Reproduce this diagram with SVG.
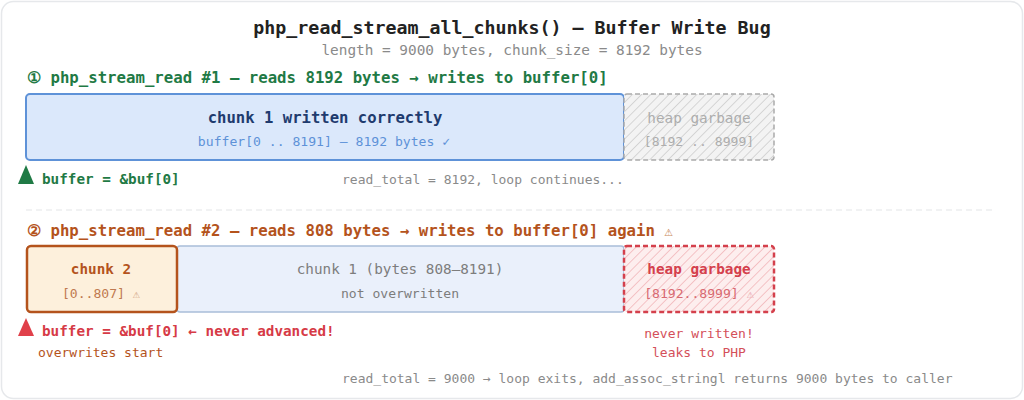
<svg xmlns="http://www.w3.org/2000/svg" width="1024" height="400" viewBox="0 0 1024 400">
<defs>
<pattern id="hatchGray" patternUnits="userSpaceOnUse" width="6.5" height="6.5" patternTransform="rotate(45)">
<rect width="6.5" height="6.5" fill="#f3f3f3"/>
<line x1="0" y1="0" x2="0" y2="6.5" stroke="#c6c6c6" stroke-width="1.3"/>
</pattern>
<pattern id="hatchRed" patternUnits="userSpaceOnUse" width="6.5" height="6.5" patternTransform="rotate(45)">
<rect width="6.5" height="6.5" fill="#fdeeee"/>
<line x1="0" y1="0" x2="0" y2="6.5" stroke="#f0abb0" stroke-width="1.3"/>
</pattern>
</defs>
<style>
text{font-family:"DejaVu Sans Mono","Liberation Mono",monospace;}
.b{font-weight:bold;}
.c{text-anchor:middle;}
.gray{fill:#8a8a8a;font-size:13px;}
</style>
<rect x="1.5" y="1.5" width="1021" height="397" rx="12" fill="#ffffff" stroke="#e6e8eb" stroke-width="1.5"/>
<g id="title">
<text x="512" y="34" class="b c" font-size="18.3" fill="#222222">php_read_stream_all_chunks() — Buffer Write Bug</text>
<text x="512" y="55" class="c" font-size="14.4" fill="#8a8a8a">length = 9000 bytes, chunk_size = 8192 bytes</text>
</g>
<g id="step1">
<text x="27" y="83" class="b" font-size="15.7" fill="#1f7a45">① php_stream_read #1 — reads 8192 bytes → writes to buffer[0]</text>
</g>
<g id="chunk1">
<rect x="26" y="94" width="598" height="66" rx="4" fill="#dbe8fb" stroke="#5e92d8" stroke-width="2"/>
<text x="325" y="123" class="b c" font-size="15.6" fill="#1f3b6e">chunk 1 written correctly</text>
<text x="324" y="146" class="c" font-size="13.1" fill="#5e92d8">buffer[0 .. 8191] — 8192 bytes ✓</text>
</g>
<g id="garbage1">
<rect x="624" y="94" width="150" height="66" rx="3" fill="url(#hatchGray)" stroke="#aaaaaa" stroke-width="1.5" stroke-dasharray="5,3"/>
<text x="699" y="123" class="c" font-size="14.3" fill="#adadad">heap garbage</text>
<text x="699" y="146" class="c" font-size="13.1" fill="#adadad">[8192 .. 8999]</text>
</g>
<g id="pointer1">
<polygon points="26,165 34,184 18,184" fill="#1f7a45"/>
<text x="42" y="184" class="b" font-size="14.3" fill="#1f7a45">buffer = &amp;buf[0]</text>
<text x="342" y="184" class="gray">read_total = 8192, loop continues...</text>
</g>
<line x1="26" y1="210" x2="994" y2="210" stroke="#e3e5e8" stroke-width="1.2" stroke-dasharray="6,4"/>
<g id="step2">
<text x="27" y="236" class="b" font-size="15.7" fill="#b4531c">② php_stream_read #2 — reads 808 bytes → writes to buffer[0] again <tspan font-weight="normal" font-size="14" fill="#c9885a">⚠</tspan></text>
</g>
<g id="chunk1rest">
<rect x="177" y="246" width="447" height="66" rx="3" fill="#eaf0fb" stroke="#a9bdd9" stroke-width="1.5"/>
<text x="400" y="274" class="c" font-size="14.3" fill="#7d7d7d">chunk 1 (bytes 808–8191)</text>
<text x="400" y="298" class="c" font-size="13.1" fill="#7d7d7d">not overwritten</text>
</g>
<g id="chunk2">
<rect x="27" y="246" width="150" height="66" rx="4" fill="#fdf0dc" stroke="#b4531c" stroke-width="2.5"/>
<text x="101" y="274" class="b c" font-size="14.3" fill="#b4531c">chunk 2</text>
<text x="101" y="298" class="c" font-size="13.1" fill="#c07a50">[0..807] <tspan font-size="12" fill="#d0a080">⚠</tspan></text>
</g>
<g id="garbage2">
<rect x="624" y="246" width="150" height="66" rx="3" fill="url(#hatchRed)" stroke="#d4404c" stroke-width="2.5" stroke-dasharray="5,3"/>
<text x="699" y="274" class="b c" font-size="14.3" fill="#d4404c">heap garbage</text>
<text x="699" y="298" class="c" font-size="13.1" fill="#d86a72">[8192..8999] <tspan font-size="12" fill="#e8a0a5">⚠</tspan></text>
</g>
<g id="pointer2">
<polygon points="26,318 34,336 18,336" fill="#e0404a"/>
<text x="42" y="336" class="b" font-size="14.3" fill="#d63a46">buffer = &amp;buf[0] ← never advanced!</text>
<text x="38" y="357" font-size="13" fill="#b4531c">overwrites start</text>
</g>
<g id="leak-note">
<text x="699" y="338" class="c" font-size="13" fill="#d4505a">never written!</text>
<text x="699" y="357" class="c" font-size="13" fill="#d4505a">leaks to PHP</text>
</g>
<g id="footer">
<text x="342" y="383" class="gray">read_total = 9000 → loop exits, add_assoc_stringl returns 9000 bytes to caller</text>
</g>
</svg>
